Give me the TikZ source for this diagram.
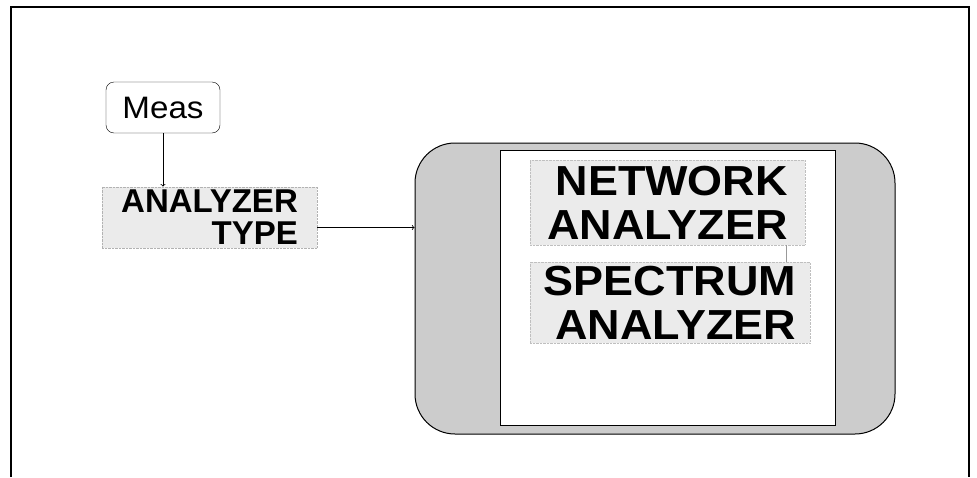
\documentclass[tikz,border=0pt]{standalone}
\usepackage{fontspec}
\setmainfont{Liberation Sans}
\newfontfamily\widefont[FakeStretch=1.07]{Liberation Sans}
\usepackage{tikz}
\usetikzlibrary{positioning}

\begin{document}
\begin{tikzpicture}[x=1pt, y=-1pt]
\useasboundingbox (0,0) rectangle (977,477);
\draw[line width=1.2pt] (11,477) -- (11,7) -- (969,7) -- (969,477);
\node[draw, shape=rectangle, rounded corners=8pt, minimum width=114pt, minimum height=51pt, font=\widefont\fontsize{31}{31}\selectfont] (meas) at (163,107.5) {Meas};
\node[draw=black!30, densely dotted, fill=black!8, shape=rectangle, minimum width=215pt, minimum height=60pt, align=right, below of=meas, node distance=110pt, xshift=46.5pt, font=\bfseries\fontsize{33}{32}\selectfont] (type) {ANALYZER\\TYPE};
\node[draw, line width=1pt, fill=black!20, shape=rectangle, rounded corners=40pt, minimum width=480pt, minimum height=291pt] (panel) at (655,288.5) {};
\node[draw, fill=white, shape=rectangle, minimum width=335pt, minimum height=275pt] (menu) at (667.5,287.5) {};
\node[draw=black!25, densely dotted, fill=black!8, shape=rectangle, minimum width=275pt, minimum height=85pt, align=right, font=\widefont\bfseries\fontsize{42}{44}\selectfont] (net) at (667.5,202.5) {NETWORK\\ANALYZER};
\node[draw=black!25, densely dotted, fill=black!8, shape=rectangle, minimum width=280pt, minimum height=81pt, align=right, below of=net, node distance=100pt, xshift=2.5pt, font=\widefont\bfseries\fontsize{42}{44}\selectfont] (spec) {SPECTRUM\\ANALYZER};
\coordinate (tin) at ([yshift=-10pt]type.east);
\draw[->, line width=0.8pt] (meas.south) -- (meas.south |- type.north);
\draw[->, line width=0.8pt] (tin) -- (tin -| panel.west);
\draw[black!40, thin] ([xshift=118.5pt]net.south) -- ([xshift=116pt]spec.north);
\end{tikzpicture}
\end{document}
